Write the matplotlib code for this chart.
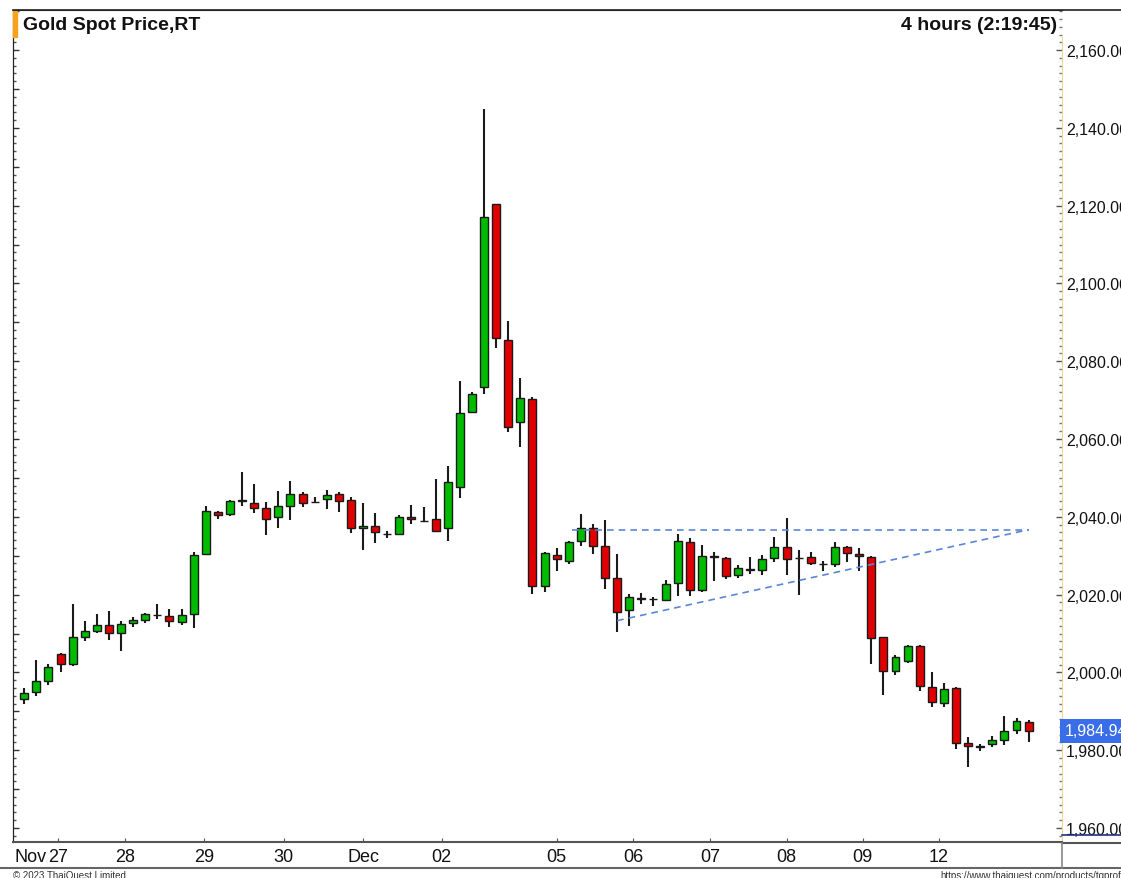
import matplotlib
matplotlib.use("Agg")
import matplotlib.pyplot as plt
import matplotlib.patches as patches
from matplotlib.lines import Line2D
from matplotlib.ticker import MultipleLocator, FuncFormatter

# ---- data (4-hour bars) ----
opens = [1993.1, 1994.9, 1997.9, 2004.7, 2002.1, 2009.0, 2010.7, 2012.1, 2010.1, 2012.6,
         2013.5, 2014.8, 2014.4, 2013.0, 2014.9, 2030.4, 2041.2, 2040.7, 2044.2, 2043.5,
         2042.2, 2039.9, 2042.9, 2045.9, 2043.8, 2044.5, 2045.9, 2044.4, 2037.0, 2037.6,
         2035.6, 2035.6, 2039.9, 2039.0, 2039.4, 2037.0, 2047.7, 2066.9, 2073.4, 2120.4,
         2085.4, 2064.3, 2070.3, 2022.3, 2030.3, 2028.6, 2033.7, 2037.0, 2032.6, 2024.2,
         2016.0, 2019.1, 2018.8, 2018.6, 2023.0, 2033.4, 2021.2, 2029.8, 2029.3, 2025.1,
         2026.5, 2026.4, 2029.3, 2032.2, 2029.5, 2029.6, 2027.9, 2027.9, 2032.2, 2030.4,
         2029.6, 2009.0, 2000.4, 2003.0, 2006.7, 1996.2, 1992.1, 1996.0, 1981.8, 1981.0,
         1981.6, 1982.6, 1985.2, 1987.2]
highs = [1995.9, 2003.2, 2002.1, 2005.0, 2017.6, 2013.3, 2014.9, 2015.7, 2013.1, 2014.2,
         2015.2, 2017.6, 2016.3, 2016.3, 2030.9, 2042.7, 2041.6, 2044.2, 2051.4, 2048.4,
         2043.7, 2046.6, 2049.1, 2046.3, 2045.0, 2046.8, 2046.5, 2045.2, 2043.5, 2041.1,
         2036.4, 2040.5, 2043.1, 2042.4, 2049.7, 2053.0, 2075.0, 2072.0, 2144.8, 2120.4,
         2090.4, 2075.7, 2070.7, 2030.9, 2031.9, 2033.9, 2040.8, 2038.1, 2039.2, 2030.4,
         2020.2, 2020.3, 2019.5, 2023.8, 2035.6, 2034.5, 2032.8, 2030.9, 2029.6, 2027.6,
         2029.6, 2030.3, 2034.7, 2039.7, 2031.5, 2031.0, 2028.7, 2033.6, 2032.6, 2031.9,
         2029.8, 2009.0, 2004.5, 2007.0, 2007.1, 2000.0, 1997.2, 1996.3, 1983.5, 1981.6,
         1983.7, 1988.9, 1988.4, 1987.8]
lows = [1991.8, 1993.9, 1996.8, 2000.2, 2001.7, 2008.0, 2010.1, 2008.3, 2005.6, 2011.6,
        2012.6, 2013.7, 2011.8, 2012.1, 2011.3, 2030.2, 2039.4, 2040.1, 2042.9, 2041.0,
        2035.3, 2037.0, 2039.3, 2042.6, 2043.5, 2042.0, 2041.2, 2035.8, 2031.5, 2033.2,
        2034.5, 2035.3, 2038.1, 2038.8, 2036.3, 2033.7, 2044.8, 2066.9, 2071.7, 2083.3,
        2061.9, 2057.9, 2020.2, 2020.8, 2026.0, 2027.9, 2032.6, 2030.4, 2021.4, 2010.3,
        2012.0, 2017.6, 2017.0, 2018.4, 2019.7, 2019.7, 2020.6, 2023.6, 2024.0, 2024.2,
        2025.3, 2025.0, 2028.3, 2025.1, 2020.0, 2027.6, 2026.2, 2027.2, 2028.5, 2026.1,
        2002.2, 1994.3, 1999.4, 2002.4, 1995.3, 1991.0, 1991.0, 1980.3, 1975.6, 1979.9,
        1980.9, 1981.3, 1984.2, 1982.2]
closes = [1994.6, 1997.9, 2001.4, 2002.1, 2009.1, 2010.6, 2012.1, 2010.1, 2012.4, 2013.5,
          2014.9, 2014.7, 2013.2, 2014.7, 2030.3, 2041.4, 2040.5, 2044.0, 2044.1, 2042.3,
          2039.4, 2042.7, 2045.9, 2043.6, 2043.7, 2045.6, 2044.1, 2037.0, 2037.6, 2036.0,
          2035.5, 2039.9, 2039.4, 2038.9, 2036.3, 2048.9, 2066.6, 2071.6, 2117.1, 2086.0,
          2063.0, 2070.5, 2022.3, 2030.6, 2029.2, 2033.6, 2037.0, 2032.6, 2024.4, 2015.6,
          2019.3, 2019.0, 2018.9, 2022.7, 2033.7, 2021.2, 2029.8, 2029.7, 2024.9, 2026.8,
          2026.4, 2029.1, 2032.2, 2029.1, 2029.4, 2028.2, 2027.8, 2032.2, 2030.7, 2029.8,
          2008.8, 2000.3, 2004.0, 2006.7, 1996.6, 1992.5, 1995.7, 1981.9, 1981.2, 1980.9,
          1982.6, 1984.9, 1987.4, 1984.94]

# date labels and the bar index where each one sits
day_labels = ["27", "28", "29", "30", "Dec", "02", "05", "06", "07", "08", "09", "12"]
day_pos = [2.8, 8.3, 14.85, 21.45, 28.0, 34.5, 44.0, 50.3, 56.65, 63.0, 69.3, 75.6]

# hand drawn triangle lines
resist_x = [45.3, 83.0]
resist_y = [2036.6, 2036.6]
support_x = [49.0, 83.0]
support_y = [2013.3, 2036.7]

last_price = closes[-1]

# ---- figure ----
W, H = 1121, 879
fig = plt.figure(figsize=(W / 100, H / 100), dpi=100)
fig.patch.set_facecolor("white")
plt.rcParams["font.family"] = ["Liberation Sans Narrow", "Liberation Sans", "DejaVu Sans"]

def fx(px):
    return px / W

def fy(py):
    return 1 - py / H

ax = fig.add_axes([fx(13), fy(843), fx(1062) - fx(13), fy(11) - fy(843)])
ax.set_facecolor("white")

xs = list(range(len(opens)))
green = "#00bb00"
red = "#e00000"

# wicks
ax.vlines(xs, lows, highs, color="#1a1a1a", linewidth=1.5, zorder=2)

# bodies
for i in xs:
    o, c = opens[i], closes[i]
    col = green if c >= o else red
    ax.bar(i, c - o, bottom=o, width=0.66, color=col, edgecolor="#1a1a1a",
           linewidth=1.0, zorder=3)

# triangle
ax.plot(resist_x, resist_y, color="#5a86d8", linestyle=(0, (4, 3)), linewidth=1.2, zorder=4)
ax.plot(support_x, support_y, color="#5a86d8", linestyle=(0, (4, 3)), linewidth=1.2, zorder=4)

ax.set_xlim(-0.93, 85.76)
ax.set_ylim(1956.4, 2170.3)

# right price scale
ax.yaxis.tick_right()
ax.yaxis.set_major_locator(MultipleLocator(20))
ax.yaxis.set_minor_locator(MultipleLocator(2))
ax.yaxis.set_major_formatter(FuncFormatter(lambda v, p: f"{v:,.2f}"))
ax.tick_params(axis="y", which="major", direction="in", length=4, width=1,
               color="#555555", labelsize=11.5, pad=3, labelcolor="#111111")
ax.tick_params(axis="y", which="minor", direction="in", length=2.5, width=1, color="#777777")

# left tick marks (no labels)
sec = ax.secondary_yaxis("left")
sec.yaxis.set_major_locator(MultipleLocator(10))
sec.yaxis.set_minor_locator(MultipleLocator(2))
sec.tick_params(which="major", direction="in", length=4, width=1, color="#333333", labelleft=False)
sec.tick_params(which="minor", direction="in", length=2.5, width=1, color="#555555")
sec.spines["left"].set_color("#222222")

# x ticks
ax.set_xticks(day_pos)
ax.set_xticklabels([""] * len(day_pos))
ax.tick_params(axis="x", direction="in", length=3, color="#555555")
for pos, lab in zip(day_pos, day_labels):
    ax.text(pos, -0.018, lab, transform=ax.get_xaxis_transform(), ha="center",
            va="center", fontsize=13, color="#111111")
ax.text(0.001, -0.018, "Nov", transform=ax.transAxes, ha="left", va="center",
        fontsize=13, color="#111111")

for s in ["top", "left"]:
    ax.spines[s].set_color("#222222")
ax.spines["bottom"].set_color("#555555")
ax.spines["bottom"].set_linewidth(1.5)
ax.spines["right"].set_color("#f0d58c")
ax.spines["right"].set_bounds(1956.4, 2163.3)

# last price tag
ax.annotate(f"{last_price:,.2f}", xy=(1.0, last_price), xycoords=ax.get_yaxis_transform(),
            xytext=(2, 0), textcoords="offset points", ha="left", va="center",
            fontsize=11.5, color="white",
            bbox=dict(boxstyle="square,pad=0.3", fc="#3a6ee8", ec="none"), zorder=6,
            annotation_clip=False)

# frame lines outside the axes
fig.add_artist(Line2D([fx(13), 1], [fy(11), fy(11)], color="#222222", linewidth=1.2))
fig.add_artist(Line2D([fx(1062), 1], [fy(836), fy(836)], color="#1f2f8a", linewidth=1.2))
fig.add_artist(Line2D([0, 1], [fy(869), fy(869)], color="#666666", linewidth=1.5))
fig.add_artist(Line2D([fx(1062), 1], [fy(844), fy(844)], color="#555555", linewidth=1.5))
fig.add_artist(Line2D([fx(1062), fx(1062)], [fy(869), fy(844)], color="#888888", linewidth=1.2))

# header
fig.add_artist(patches.Rectangle((fx(13), fy(38)), fx(4), 26 / H, transform=fig.transFigure,
                                 color="#f7a21b"))
fig.text(fx(23), fy(25), "Gold Spot Price,RT", fontsize=14, fontweight="bold",
         ha="left", va="center", color="#111111")
fig.text(fx(1057), fy(25), "4 hours (2:19:45)", fontsize=14, fontweight="bold",
         ha="right", va="center", color="#111111")

# footer
fig.text(fx(13), fy(871), "© 2023 ThaiQuest Limited", fontsize=7, ha="left", va="top",
         color="#333333")
fig.text(fx(940), fy(871), "https://www.thaiquest.com/products/tqprofessional", fontsize=7,
         ha="left", va="top", color="#333333")

fig.savefig("out.png", dpi=100, facecolor="white")
